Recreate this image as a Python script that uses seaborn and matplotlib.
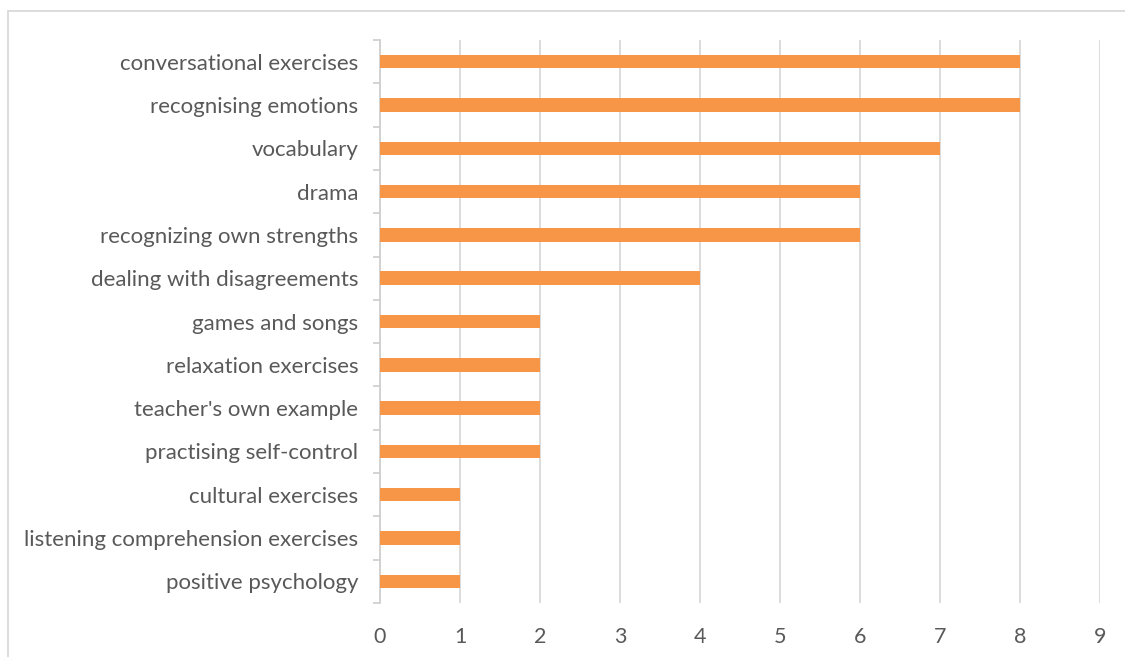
import matplotlib
matplotlib.use("Agg")
import matplotlib.pyplot as plt
import seaborn as sns
import pandas as pd
from matplotlib.patches import Rectangle

categories = [
    "conversational exercises",
    "recognising emotions",
    "vocabulary",
    "drama",
    "recognizing own strengths",
    "dealing with disagreements",
    "games and songs",
    "relaxation exercises",
    "teacher's own example",
    "practising self-control",
    "cultural exercises",
    "listening comprehension exercises",
    "positive psychology",
]
values = [8, 8, 7, 6, 6, 4, 2, 2, 2, 2, 1, 1, 1]
x_ticks = list(range(0, 10))

df = pd.DataFrame({"category": categories, "value": values})

sns.set_theme(style="white")
plt.rcParams["font.family"] = ["Lato", "DejaVu Sans"]

fig = plt.figure(figsize=(11.25, 6.57), dpi=100)
ax = fig.add_axes([380/1125, 1-603/657, 720/1125, 563/657])

sns.barplot(data=df, y="category", x="value", orient="h", color="#F79646",
            width=0.31, saturation=1, ax=ax, zorder=3, linewidth=0)

ax.set_xlim(0, 9)
ax.set_ylim(len(categories) - 0.5, -0.5)
ax.set_xticks(x_ticks)
ax.set_xticklabels([str(t) for t in x_ticks])
ax.xaxis.grid(True, color="#d9d9d9", linewidth=1.3, zorder=0)
ax.set_axisbelow(True)
ax.set_xlabel("")
ax.set_ylabel("")

for s in ["top", "right", "bottom"]:
    ax.spines[s].set_visible(False)
ax.spines["left"].set_color("#d0d0d0")
ax.spines["left"].set_linewidth(1.3)

ax.tick_params(axis="x", length=0, labelsize=15.5, labelcolor="#595959", pad=17)
ax.tick_params(axis="y", which="major", length=0, labelsize=16, labelcolor="#595959", pad=15.5)
ax.set_yticks([i + 0.5 for i in range(-1, len(categories))], minor=True)
ax.tick_params(axis="y", which="minor", left=True, length=5, color="#d0d0d0", width=1.3)

fig.patches.append(Rectangle((8/1125, -0.1), 1.2, 1 - 11/657 + 0.1, transform=fig.transFigure,
                             fill=False, edgecolor="#d9d9d9", linewidth=1.3))

fig.savefig("out.png", dpi=100)
